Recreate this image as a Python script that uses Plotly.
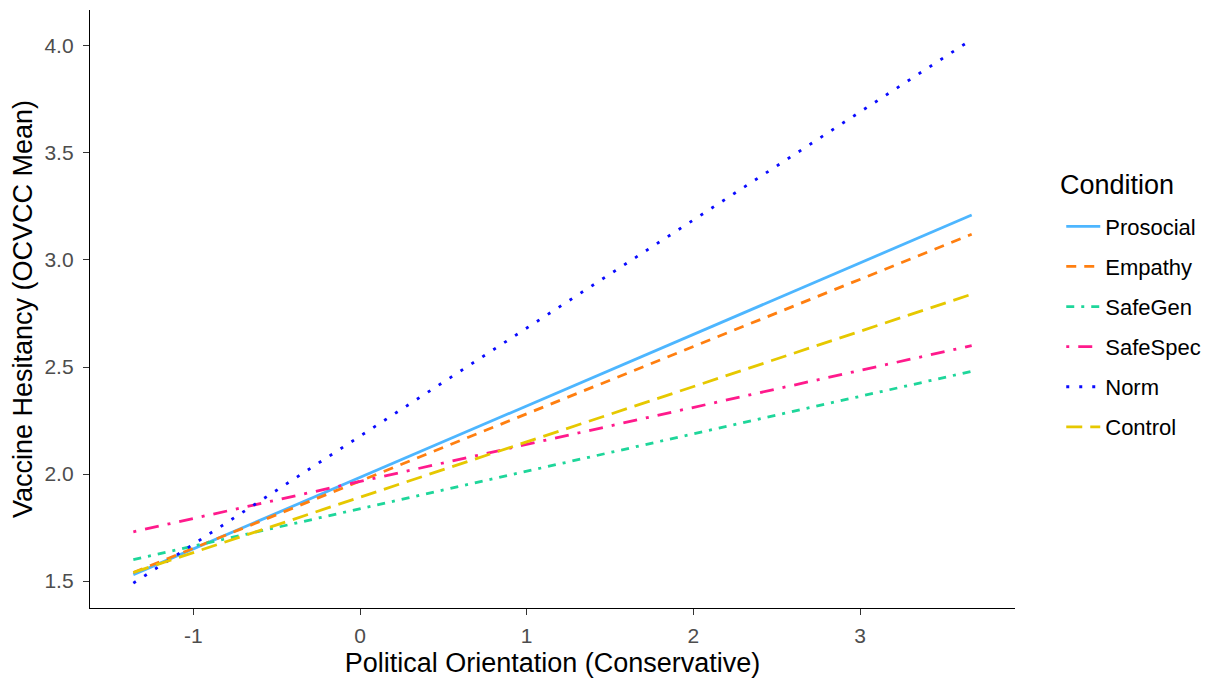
import plotly.graph_objects as go

conditions = ["Prosocial", "Empathy", "SafeGen", "SafeSpec", "Norm", "Control"]
x_range = [-1.36, 3.67]
y_start = [1.53, 1.54, 1.60, 1.73, 1.49, 1.54]
y_end = [3.21, 3.12, 2.48, 2.60, 4.03, 2.84]

x_tickvals = [-1, 0, 1, 2, 3]
x_ticktext = ["-1", "0", "1", "2", "3"]
y_tickvals = [1.5, 2.0, 2.5, 3.0, 3.5, 4.0]

colors = ["#4DB6FF", "#FF7F10", "#1ED69A", "#FF1A8C", "#0A0AFF", "#E6C800"]
dashes = ["solid", "10px,8px", "8px,7px,3px,7px", "3px,9px,14px,9px", "3px,10px", "16px,8px"]

FONT = "Liberation Sans, Arial, sans-serif"

fig = go.Figure()
for i, name in enumerate(conditions):
    fig.add_trace(go.Scatter(
        x=x_range, y=[y_start[i], y_end[i]], mode="lines", name=name,
        legendgroup=name,
        line=dict(color=colors[i], width=2.8, dash=dashes[i]),
    ))

axis_common = dict(
    showgrid=False, zeroline=False, showline=True, linecolor="black", linewidth=1.3,
    ticks="outside", ticklen=6, tickcolor="#333333", tickwidth=1.3,
    automargin=False,
    tickfont=dict(family=FONT, size=21, color="#4D4D4D"),
    title_font=dict(family=FONT, size=27, color="black"),
)

fig.update_layout(
    width=1215, height=671,
    margin=dict(l=82, r=208, t=2, b=71),
    plot_bgcolor="white", paper_bgcolor="white",
    xaxis=dict(axis_common, range=[-1.62, 3.93], tickvals=x_tickvals, ticktext=x_ticktext,
               ticklabelstandoff=3,
               title=dict(text="Political Orientation (Conservative)", standoff=6)),
    yaxis=dict(axis_common, range=[1.374, 4.168], tickvals=y_tickvals,
               tickformat=".1f", ticklabelstandoff=5,
               title=dict(text="Vaccine Hesitancy (OCVCC Mean)", standoff=4)),
    legend=dict(
        font=dict(family=FONT, size=22, color="black"),
        x=1.050, xanchor="left", y=0.673, yanchor="top",
        tracegroupgap=8.5, itemwidth=34,
    ),
    annotations=[dict(
        text="Condition", xref="paper", yref="paper", x=1.0465, y=0.7074,
        xanchor="left", yanchor="middle", showarrow=False,
        font=dict(family=FONT, size=27, color="black"),
    )],
)

fig.write_html("out.html")
